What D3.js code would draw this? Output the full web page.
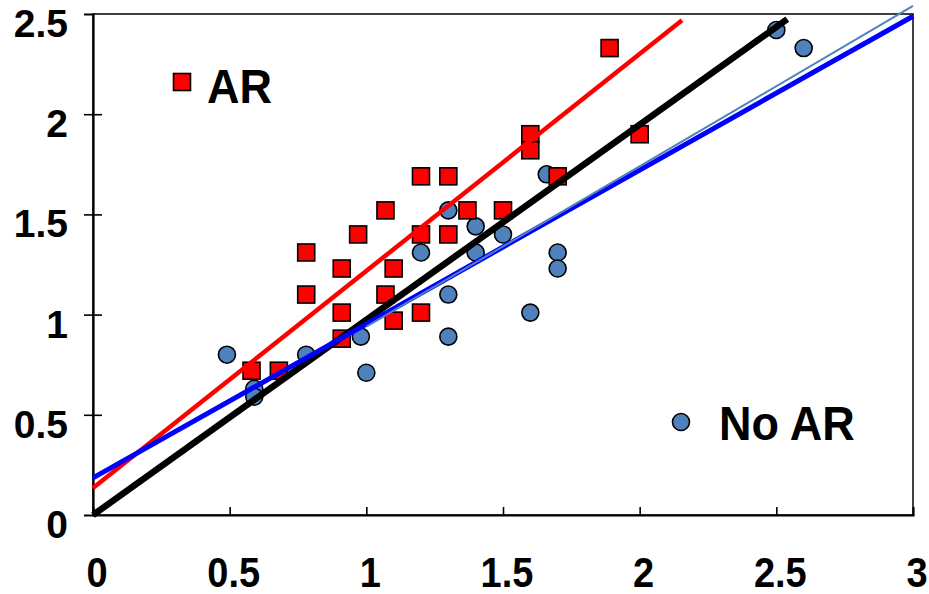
<!DOCTYPE html>
<html>
<head>
<meta charset="utf-8">
<script src="https://cdn.jsdelivr.net/npm/d3@7"></script>
<style>
  html, body { margin: 0; padding: 0; background: #fff; }
  svg { display: block; }
  text { font-family: "Liberation Sans", Arial, sans-serif; font-weight: bold; fill: #000; }
</style>
</head>
<body>
<svg id="chart" width="929" height="594"></svg>
<script>
// ---- data ----
const xTicks = [0, 0.5, 1, 1.5, 2, 2.5, 3];
const yTicks = [0, 0.5, 1, 1.5, 2, 2.5];
const xTickLabels = ["0", "0.5", "1", "1.5", "2", "2.5", "3"];
const yTickLabels = ["0", "0.5", "1", "1.5", "2", "2.5"];

// AR series (red squares)
const arX = [1.89, 1.6, 1.6, 2.0, 1.7, 1.2, 1.3, 1.07, 1.37, 1.5, 0.97, 1.2, 1.3, 0.78, 0.91, 1.1, 0.78, 1.07, 0.91, 1.2, 1.1, 0.91, 0.58, 0.68];
const arY = [2.33, 1.9, 1.82, 1.9, 1.69, 1.69, 1.69, 1.52, 1.52, 1.52, 1.4, 1.4, 1.4, 1.31, 1.23, 1.23, 1.1, 1.1, 1.01, 1.01, 0.97, 0.88, 0.72, 0.72];

// No AR series (blue circles)
const noArX = [2.5, 2.6, 1.66, 1.3, 1.4, 1.2, 1.5, 1.4, 1.7, 1.7, 1.3, 1.6, 1.3, 0.98, 1.0, 0.78, 0.49, 0.59, 0.59];
const noArY = [2.42, 2.33, 1.7, 1.52, 1.44, 1.31, 1.4, 1.31, 1.31, 1.23, 1.1, 1.01, 0.89, 0.89, 0.71, 0.8, 0.8, 0.63, 0.59];

// Fitted / reference lines: intercept, slope, x range
const lineNames = ["AR fit", "Identity", "No AR fit", "No AR trend"];
const lineIntercepts = [0.135, 0, 0.185, 0.14];
const lineSlopes = [1.083, 0.974, 0.768, 0.80];
const lineXStart = [0, 0, 0, 1.0];
const lineXEnd = [2.155, 2.54, 3, 3];
const lineColors = ["#FF0000", "#000000", "#0000FF", "#4F81BD"];
const lineWidths = [4.5, 6.5, 5, 2];

const legendLabels = ["AR", "No AR"];

// ---- layout ----
const svg = d3.select("#chart");
const x = d3.scaleLinear().domain([0, 3]).range([93, 913]);
const y = d3.scaleLinear().domain([0, 2.5]).range([515, 14]);

// frame
svg.append("rect")
  .attr("x", x(0)).attr("y", y(2.5))
  .attr("width", x(3) - x(0)).attr("height", y(0) - y(2.5))
  .attr("fill", "none").attr("stroke", "#000").attr("stroke-width", 1.5);

// axes (tick marks)
const yAxis = d3.axisLeft(y).tickValues(yTicks.slice(1, 5)).tickSize(9).tickFormat("");
const gy = svg.append("g").attr("transform", `translate(${x(0)},0)`).call(yAxis);
gy.select(".domain").attr("stroke-width", 2.2);
gy.selectAll(".tick line").attr("x1", 9).attr("x2", -9).attr("stroke-width", 1.6);

const xAxis = d3.axisBottom(x).tickValues(xTicks.slice(1, 6)).tickSize(-8).tickFormat("");
const gx = svg.append("g").attr("transform", `translate(0,${y(0)})`).call(xAxis);
gx.select(".domain").attr("stroke-width", 2.2);
gx.selectAll(".tick line").attr("stroke-width", 1.6);

// tick labels
svg.append("g").selectAll("text").data(yTicks).join("text")
  .attr("x", 68).attr("y", d => y(d) + 23)
  .attr("text-anchor", "end").attr("font-size", 39)
  .text((d, i) => yTickLabels[i]);

svg.append("g").selectAll("text").data(xTicks).join("text")
  .attr("transform", d => `translate(${x(d) + 4},587) scale(1,1.1)`)
  .attr("text-anchor", "middle").attr("font-size", 38)
  .text((d, i) => xTickLabels[i]);

// No AR circles
const noAr = noArX.map((v, i) => ({ x: v, y: noArY[i] }));
svg.append("g").selectAll("circle").data(noAr).join("circle")
  .attr("cx", d => x(d.x)).attr("cy", d => y(d.y)).attr("r", 8.5)
  .attr("fill", "#4F81BD").attr("stroke", "#000").attr("stroke-width", 1.6);

// AR squares
const ar = arX.map((v, i) => ({ x: v, y: arY[i] }));
const sq = 17;
svg.append("g").selectAll("rect").data(ar).join("rect")
  .attr("x", d => x(d.x) - sq / 2).attr("y", d => y(d.y) - sq / 2)
  .attr("width", sq).attr("height", sq)
  .attr("fill", "#FF0000").attr("stroke", "#000").attr("stroke-width", 1.6);

// lines
const lines = lineNames.map((n, i) => ({
  name: n,
  pts: [lineXStart[i], lineXEnd[i]].map(xv => [xv, lineIntercepts[i] + lineSlopes[i] * xv]),
  color: lineColors[i], width: lineWidths[i]
}));
const lineGen = d3.line().x(d => x(d[0])).y(d => y(d[1]));
svg.append("g").selectAll("path").data(lines).join("path")
  .attr("d", d => lineGen(d.pts))
  .attr("fill", "none").attr("stroke", d => d.color).attr("stroke-width", d => d.width);

// legend
svg.append("rect").attr("x", 182 - sq / 2).attr("y", 82 - sq / 2).attr("width", sq).attr("height", sq)
  .attr("fill", "#FF0000").attr("stroke", "#000").attr("stroke-width", 1.6);
svg.append("text").attr("transform", "translate(207,103) scale(1,1.05)").attr("font-size", 45).text(legendLabels[0]);

svg.append("circle").attr("cx", 681).attr("cy", 422).attr("r", 8.5)
  .attr("fill", "#4F81BD").attr("stroke", "#000").attr("stroke-width", 1.6);
svg.append("text").attr("transform", "translate(719,440) scale(1,1.05)").attr("font-size", 45).text(legendLabels[1]);
</script>
</body>
</html>
